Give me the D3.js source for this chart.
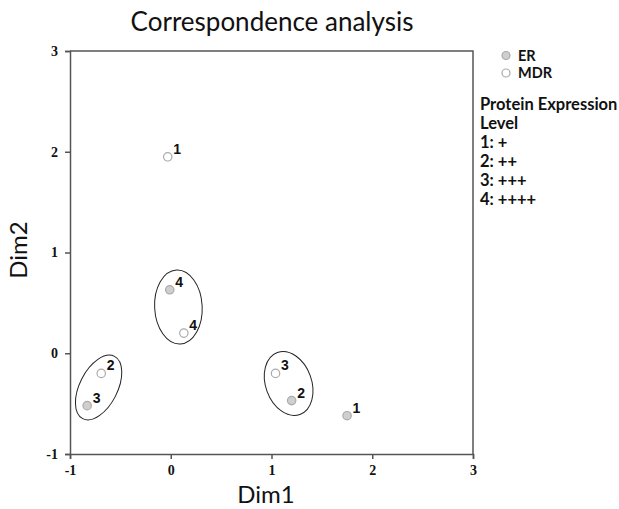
<!DOCTYPE html>
<html>
<head>
<meta charset="utf-8">
<script src="https://cdn.jsdelivr.net/npm/d3@7"></script>
<style>
  body { margin: 0; background: #fff; }
  .tick text { font-family: "Liberation Serif", serif; font-weight: bold; font-size: 14px; }
</style>
</head>
<body>
<div id="chart"></div>
<script>
// levels of protein expression, one point per level and marker
var levels = ["1", "2", "3", "4"];
var erDim1 = [1.75, 1.20, -0.83, -0.01];
var erDim2 = [-0.62, -0.47, -0.52, 0.63];
var mdrDim1 = [-0.03, -0.69, 1.04, 0.13];
var mdrDim2 = [1.95, -0.20, -0.20, 0.20];

// grouping ellipses (centre, semi axes in data units, tilt in degrees)
var ellCx = [-0.716, 0.076, 1.17];
var ellCy = [-0.34, 0.459, -0.30];
var ellRx = [0.188, 0.236, 0.228];
var ellRy = [0.347, 0.367, 0.327];
var ellAngle = [27, -3, -20];

var xTicks = [-1, 0, 1, 2, 3];
var yTicks = [-1, 0, 1, 2, 3];
var legendKeys = ["ER", "MDR"];
var legendLines = ["Protein Expression", "Level", "1: +", "2: ++", "3: +++", "4: ++++"];

var margin = {top: 51, left: 70, width: 403, height: 403};

var svg = d3.select("#chart").append("svg")
    .attr("width", 619)
    .attr("height", 509);

var x = d3.scaleLinear().domain([-1, 3]).range([margin.left, margin.left + margin.width]);
var y = d3.scaleLinear().domain([-1, 3]).range([margin.top + margin.height, margin.top]);

var axisColor = "#555";
var sans = "Lato, 'Open Sans', sans-serif";

// frame top and right
svg.append("path")
    .attr("d", "M" + x(-1) + "," + y(3) + "H" + x(3) + "V" + y(-1))
    .attr("fill", "none")
    .attr("stroke", axisColor)
    .attr("stroke-width", 1.5);

var xAxis = svg.append("g")
    .attr("transform", "translate(0," + y(-1) + ")")
    .call(d3.axisBottom(x).tickValues(xTicks).tickSize(5).tickPadding(6).tickFormat(d3.format("d")));

var yAxis = svg.append("g")
    .attr("transform", "translate(" + x(-1) + ",0)")
    .call(d3.axisLeft(y).tickValues(yTicks).tickSize(5).tickPadding(7).tickFormat(d3.format("d")));

[xAxis, yAxis].forEach(function(g) {
    g.select(".domain").attr("stroke", axisColor).attr("stroke-width", 1.5);
    g.selectAll(".tick line").attr("stroke", axisColor).attr("stroke-width", 1.5);
    g.selectAll(".tick text").attr("fill", "#111").text(function(d) { return d < 0 ? "-" + Math.abs(d) : d; });
});

// ellipses around the clusters
var ellData = ellCx.map(function(c, i) {
    return {cx: c, cy: ellCy[i], rx: ellRx[i], ry: ellRy[i], a: ellAngle[i]};
});
svg.selectAll(".ell")
    .data(ellData)
    .enter().append("ellipse")
    .attr("class", "ell")
    .attr("transform", function(d) { return "translate(" + x(d.cx) + "," + y(d.cy) + ") rotate(" + d.a + ")"; })
    .attr("rx", function(d) { return x(d.rx) - x(0); })
    .attr("ry", function(d) { return y(0) - y(d.ry); })
    .attr("fill", "none")
    .attr("stroke", "#222")
    .attr("stroke-width", 1);

var points = [];
levels.forEach(function(l, i) {
    points.push({series: "ER", level: l, d1: erDim1[i], d2: erDim2[i]});
    points.push({series: "MDR", level: l, d1: mdrDim1[i], d2: mdrDim2[i]});
});

var fill = {ER: "#cfcfcf", MDR: "#ffffff"};

svg.selectAll(".pt")
    .data(points)
    .enter().append("circle")
    .attr("class", "pt")
    .attr("cx", function(d) { return x(d.d1); })
    .attr("cy", function(d) { return y(d.d2); })
    .attr("r", 4.2)
    .attr("fill", function(d) { return fill[d.series]; })
    .attr("stroke", "#aaa")
    .attr("stroke-width", 1.2);

svg.selectAll(".lbl")
    .data(points)
    .enter().append("text")
    .attr("class", "lbl")
    .attr("x", function(d) { return x(d.d1) + 5.5; })
    .attr("y", function(d) { return y(d.d2) - 3; })
    .attr("font-family", "Liberation Sans, Arial, sans-serif")
    .attr("font-weight", "bold")
    .attr("font-size", 14)
    .attr("fill", "#111")
    .text(function(d) { return d.level; });

// titles
svg.append("text")
    .attr("x", 272).attr("y", 31)
    .attr("text-anchor", "middle")
    .attr("font-family", sans)
    .attr("font-size", 26)
    .attr("fill", "#111")
    .text("Correspondence analysis");

svg.append("text")
    .attr("x", 266).attr("y", 503)
    .attr("text-anchor", "middle")
    .attr("font-family", sans)
    .attr("font-size", 24)
    .attr("fill", "#111")
    .text("Dim1");

svg.append("text")
    .attr("transform", "translate(27,250) rotate(-90)")
    .attr("text-anchor", "middle")
    .attr("font-family", sans)
    .attr("font-size", 24)
    .attr("fill", "#111")
    .text("Dim2");

// legend
var leg = svg.append("g");
leg.selectAll("circle")
    .data(legendKeys)
    .enter().append("circle")
    .attr("cx", 506)
    .attr("cy", function(d, i) { return 55.5 + i * 17.5; })
    .attr("r", 4)
    .attr("fill", function(d) { return fill[d]; })
    .attr("stroke", "#aaa")
    .attr("stroke-width", 1.2);
leg.selectAll(".key")
    .data(legendKeys)
    .enter().append("text")
    .attr("class", "key")
    .attr("x", 518)
    .attr("y", function(d, i) { return 60.5 + i * 17.5; })
    .attr("font-family", sans)
    .attr("font-weight", "bold")
    .attr("font-size", 14.5)
    .attr("fill", "#111")
    .text(function(d) { return d; });
leg.selectAll(".line")
    .data(legendLines)
    .enter().append("text")
    .attr("class", "line")
    .attr("x", 480)
    .attr("y", function(d, i) { return 110 + i * 19; })
    .attr("font-family", sans)
    .attr("font-weight", "bold")
    .attr("font-size", 16.5)
    .attr("fill", "#111")
    .text(function(d) { return d; });
</script>
</body>
</html>
